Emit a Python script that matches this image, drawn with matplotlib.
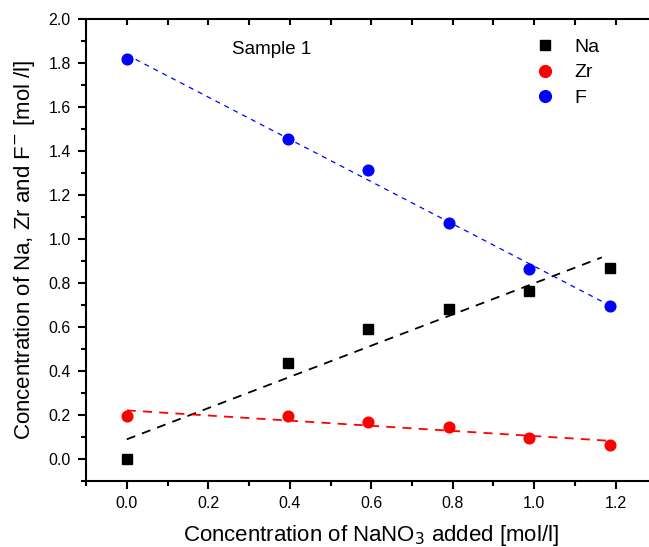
import numpy as np
import matplotlib
matplotlib.use("Agg")
import matplotlib.pyplot as plt

plt.rcParams['font.family'] = ['Liberation Sans', 'DejaVu Sans']

# NaNO3 added [mol/l]
nano3 = [0.0, 0.395, 0.593, 0.790, 0.988, 1.186]

# measured concentrations [mol/l]
na = [0.0, 0.435, 0.590, 0.680, 0.765, 0.870]
zr = [0.195, 0.195, 0.170, 0.145, 0.095, 0.065]
f_ion = [1.820, 1.455, 1.315, 1.075, 0.865, 0.695]

# x range covered by each fitted line
na_fit_range = [0.0, 1.166]
zr_fit_range = [0.0, 1.186]
f_fit_range = [0.0, 1.186]

x_ticks = [0.0, 0.2, 0.4, 0.6, 0.8, 1.0, 1.2]
y_ticks = [0.0, 0.2, 0.4, 0.6, 0.8, 1.0, 1.2, 1.4, 1.6, 1.8, 2.0]


def fit_line(ax, x, y, xr, color, lw, dashes):
    k, b = np.polyfit(x, y, 1)
    xx = np.array(xr)
    ax.plot(xx, k * xx + b, color=color, lw=lw, dashes=dashes, zorder=2)


fig = plt.figure(figsize=(6.49, 5.47), dpi=100)
ax = fig.add_axes([86 / 649, 66 / 547, 570.5 / 649, 462 / 547])

fit_line(ax, nano3, na, na_fit_range, "black", 1.3, (5, 4))
fit_line(ax, nano3, zr, zr_fit_range, "red", 1.3, (5, 4))
fit_line(ax, nano3, f_ion, f_fit_range, "blue", 0.9, (4, 4))

ax.plot(nano3, na, "s", color="black", ms=6.6, ls="none", label="Na", zorder=3)
ax.plot(nano3, zr, "o", color="red", ms=7.7, ls="none", label="Zr", zorder=3)
ax.plot(nano3, f_ion, "o", color="blue", ms=7.7, ls="none", label="F", zorder=3)

ax.set_xlim(-0.1, 1.3)
ax.set_ylim(-0.1, 2.0)
ax.set_xticks(x_ticks)
ax.set_yticks(y_ticks)
ax.set_xticklabels([f"{v:.1f}" for v in x_ticks])
ax.set_yticklabels([f"{v:.1f}" for v in y_ticks])
ax.set_xticks(np.arange(-0.1, 1.31, 0.1), minor=True)
ax.set_yticks(np.arange(-0.1, 2.01, 0.1), minor=True)

for s in ax.spines.values():
    s.set_linewidth(1.5)

ax.tick_params(which="major", direction="out", length=6, width=1.5,
               labelsize=11.5, pad=5)
ax.tick_params(which="minor", direction="out", length=3.5, width=1.5)
ax.tick_params(which="both", top=True, right=True)

# top/right ticks point inward, left/bottom outward (as in Origin)
for t in ax.xaxis.get_major_ticks() + ax.xaxis.get_minor_ticks():
    t.tick2line.set_marker(3)
    t.tick2line.set_markersize(4.5)
for t in ax.yaxis.get_major_ticks() + ax.yaxis.get_minor_ticks():
    t.tick2line.set_marker(1)
    t.tick2line.set_markersize(4.5)

ax.set_xlabel("Concentration of NaNO$_3$ added [mol/l]", fontsize=16, labelpad=8.5)
ax.set_ylabel("Concentration of Na, Zr and F$^{-}$ [mol /l]", fontsize=16, labelpad=8)

ax.text(232 / 649, 1 - 50 / 547, "Sample 1", fontsize=13.5,
        transform=fig.transFigure, va="center", ha="left")

ax.legend(loc="upper left", bbox_to_anchor=(535 / 649, 1 - 38 / 547),
          bbox_transform=fig.transFigure, frameon=False, fontsize=14,
          handlelength=1.0, handletextpad=1.0, labelspacing=0.42,
          borderpad=0, borderaxespad=0, markerscale=1.1)

fig.savefig("out.png", dpi=100)
